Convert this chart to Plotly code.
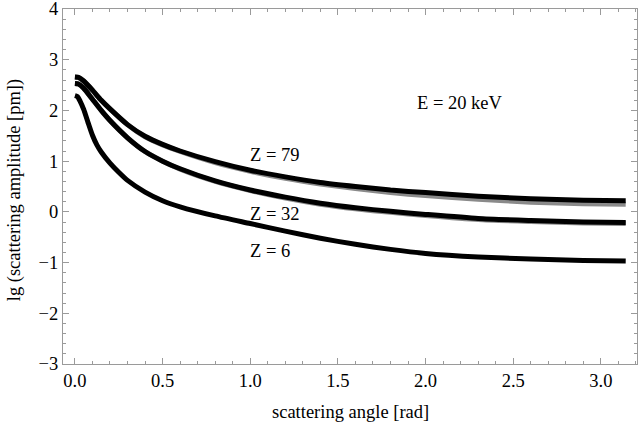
import plotly.graph_objects as go

angle = [0.0, 0.02, 0.05, 0.10, 0.15, 0.20, 0.30, 0.40, 0.50, 0.60, 0.80, 1.00,
         1.20, 1.40, 1.60, 1.80, 2.00, 2.30, 2.60, 2.90, 3.1416]

z79_black = [2.66, 2.65, 2.58, 2.40, 2.20, 2.03, 1.72, 1.49, 1.33, 1.20, 0.99, 0.82,
             0.69, 0.58, 0.50, 0.43, 0.38, 0.31, 0.26, 0.23, 0.22]
z79_gray = [2.66, 2.65, 2.58, 2.40, 2.20, 2.03, 1.72, 1.48, 1.32, 1.19, 0.97, 0.80,
            0.66, 0.55, 0.46, 0.38, 0.32, 0.25, 0.19, 0.16, 0.15]

z32_black = [2.53, 2.52, 2.44, 2.22, 2.00, 1.80, 1.46, 1.19, 1.00, 0.85, 0.61, 0.43,
             0.29, 0.17, 0.08, 0.01, -0.05, -0.13, -0.17, -0.20, -0.21]
z32_gray = [2.53, 2.52, 2.44, 2.22, 2.00, 1.80, 1.46, 1.19, 1.00, 0.84, 0.60, 0.42,
            0.27, 0.15, 0.06, -0.01, -0.07, -0.15, -0.19, -0.22, -0.23]

angle6 = [0.0, 0.015, 0.03, 0.05, 0.075, 0.10, 0.125, 0.15, 0.20, 0.25, 0.30, 0.40,
          0.50, 0.60, 0.80, 1.00, 1.20, 1.40, 1.60, 1.80, 2.00, 2.30, 2.60, 2.90, 3.1416]
z6_black = [2.29, 2.27, 2.18, 2.02, 1.76, 1.51, 1.32, 1.18, 0.96, 0.78, 0.62, 0.39,
            0.22, 0.10, -0.08, -0.23, -0.38, -0.52, -0.64, -0.74, -0.82, -0.89, -0.93,
            -0.96, -0.97]

labels = ["Z = 79", "Z = 32", "Z = 6", "E = 20 keV"]
label_x = [0.99, 0.99, 0.99, 1.94]
label_y = [1.13, -0.04, -0.78, 2.15]

x_ticks = [0.0, 0.5, 1.0, 1.5, 2.0, 2.5, 3.0]
x_ticktext = ["0.0", "0.5", "1.0", "1.5", "2.0", "2.5", "3.0"]
y_ticks = [-3, -2, -1, 0, 1, 2, 3, 4]
y_ticktext = ["\u22123", "\u22122", "\u22121", "0", "1", "2", "3", "4"]

FONT = "Liberation Serif, Times New Roman, DejaVu Serif, serif"
FS = 18.5
fig = go.Figure()
line_w = 5
for xs, ys, col in [(angle, z79_gray, "#8a8a8a"), (angle, z32_gray, "#8a8a8a"),
                    (angle, z79_black, "black"), (angle, z32_black, "black"),
                    (angle6, z6_black, "black")]:
    fig.add_trace(go.Scatter(x=xs, y=ys, mode="lines",
                             line=dict(color=col, width=line_w, shape="spline", smoothing=0.6),
                             showlegend=False, hoverinfo="skip"))

for t, x, y in zip(labels, label_x, label_y):
    fig.add_annotation(x=x, y=y, text=t, showarrow=False, xanchor="left", yanchor="middle",
                       font=dict(family=FONT, size=FS, color="black"))

# axis titles
fig.add_annotation(xref="paper", yref="paper", x=0.5, y=-0.135, text="scattering angle [rad]",
                   showarrow=False, xanchor="center", yanchor="middle",
                   font=dict(family=FONT, size=FS, color="black"))
fig.add_annotation(xref="paper", yref="paper", x=-0.085, y=0.49, text="lg (scattering amplitude [pm])",
                   showarrow=False, xanchor="center", yanchor="middle", textangle=-90,
                   font=dict(family=FONT, size=FS, color="black"))

axis_common = dict(showline=True, linecolor="#9a9a9a", linewidth=1, mirror="ticks",
                   ticks="inside", ticklen=6, tickcolor="#9a9a9a", tickwidth=1,
                   showgrid=False, zeroline=False, automargin=False,
                   ticklabeloverflow="allow",
                   tickfont=dict(family=FONT, size=FS, color="black"))

fig.update_xaxes(range=[-0.068, 3.206], tickvals=x_ticks, ticktext=x_ticktext,
                 minor=dict(dtick=0.1, ticks="inside", ticklen=3, tickcolor="#9a9a9a", showgrid=False),
                 **axis_common)
fig.update_yaxes(range=[-3, 4], tickvals=y_ticks, ticktext=y_ticktext,
                 minor=dict(dtick=0.2, ticks="inside", ticklen=3, tickcolor="#9a9a9a", showgrid=False),
                 **axis_common)

fig.update_layout(width=640, height=424, margin=dict(l=63, r=3, t=9, b=60, autoexpand=False),
                  plot_bgcolor="white", paper_bgcolor="white")
fig.write_html("out.html", config={"displayModeBar": False},
               post_script="document.body.style.margin='0';document.body.style.overflow='hidden';")
